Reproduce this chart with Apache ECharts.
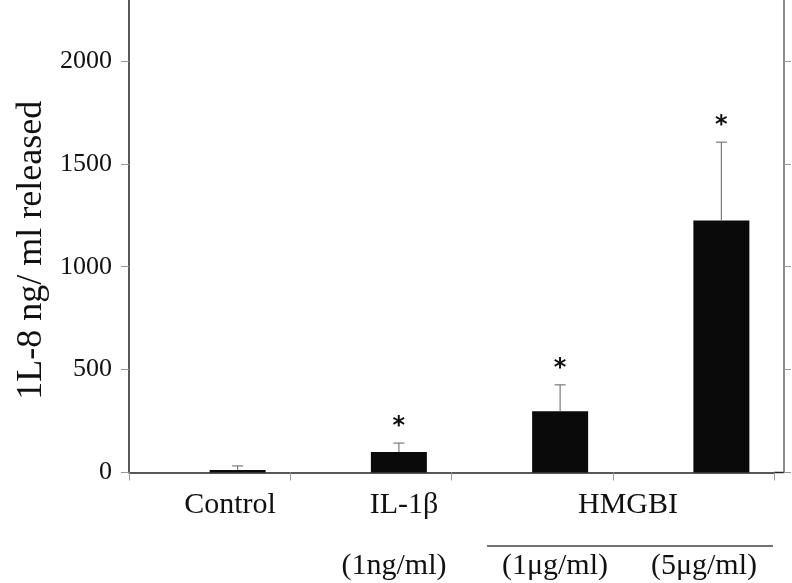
<!DOCTYPE html>
<html>
<head>
<meta charset="utf-8">
<script src="https://cdn.jsdelivr.net/npm/echarts@6/dist/echarts.min.js"></script>
<style>
html,body{margin:0;padding:0;background:#fff;}
#chart{width:792px;height:583px;}
</style>
</head>
<body>
<div id="chart"></div>
<script>
// data
const categories = ['Control', 'IL-1β', 'HMGBI 1μg/ml', 'HMGBI 5μg/ml']
const means = [12, 100, 298, 1225]
const errors = [20, 43, 128, 380]
const significant = [0, 1, 1, 1]
const yTicks = [0, 500, 1000, 1500, 2000]
const groupLabels = ['Control', 'IL-1β', 'HMGBI']
const doseLabels = ['(1ng/ml)', '(1μg/ml)', '(5μg/ml)']

const SERIF = "'Liberation Serif', 'Times New Roman', serif"
const BAR_W = 56

const chart = echarts.init(document.getElementById('chart'))

const errData = means.map((m, i) => [i, m, errors[i], significant[i]])

const option = {
    backgroundColor: '#fff',
    animation: false,
    grid: {left: 129, right: 18, top: 0, bottom: 110.5},
    xAxis: {
        type: 'category',
        data: categories,
        boundaryGap: true,
        axisLine: {lineStyle: {color: '#222', width: 1.5}},
        axisTick: {show: true, alignWithLabel: false, length: 8, lineStyle: {color: '#999'}},
        axisLabel: {show: false},
        splitLine: {show: false}
    },
    yAxis: [
        {
            type: 'value',
            min: 0,
            max: 2296,
            interval: 500,
            name: '1L-8 ng/ ml released',
            nameLocation: 'middle',
            nameRotate: 90,
            nameGap: 79,
            nameTextStyle: {fontFamily: SERIF, fontSize: 36, color: '#111', padding: [0, 28, 0, 0]},
            axisLine: {show: true, lineStyle: {color: '#222', width: 1.5}},
            axisTick: {show: true, length: 8, customValues: yTicks, lineStyle: {color: '#999'}},
            axisLabel: {
                customValues: yTicks,
                margin: 17,
                fontFamily: SERIF,
                fontSize: 26,
                color: '#111',
                formatter: function (v) { return String(v) }
            },
            splitLine: {show: false}
        },
        {
            type: 'value',
            position: 'right',
            offset: 10,
            min: 0,
            max: 2296,
            interval: 500,
            axisLine: {show: true, lineStyle: {color: '#666', width: 1.5}},
            axisTick: {show: true, length: 7, customValues: yTicks, lineStyle: {color: '#999'}},
            axisLabel: {show: false},
            splitLine: {show: false}
        }
    ],
    series: [
        {
            // empty spacer so the real bars sit right of the category centre
            name: 'spacer',
            type: 'bar',
            data: [],
            barWidth: BAR_W,
            barGap: '0%',
            silent: true
        },
        {
            name: 'IL-8',
            type: 'bar',
            data: means,
            barWidth: BAR_W,
            barGap: '0%',
            itemStyle: {color: '#0a0a0a'}
        },
        {
            name: 'SD',
            type: 'custom',
            data: errData,
            encode: {x: 0, y: 1},
            z: 10,
            renderItem: function (params, api) {
                const idx = api.value(0)
                const mean = api.value(1)
                const err = api.value(2)
                const base = api.coord([idx, mean])
                const top = api.coord([idx, mean + err])
                const x = base[0] + BAR_W / 2
                const lineStyle = {stroke: '#7a7a7a', lineWidth: 1.2}
                const children = [
                    {type: 'line', shape: {x1: x, y1: base[1], x2: x, y2: top[1]}, style: lineStyle},
                    {type: 'line', shape: {x1: x - 5.5, y1: top[1], x2: x + 5.5, y2: top[1]}, style: lineStyle}
                ]
                if (api.value(3)) {
                    children.push({
                        type: 'text',
                        x: x,
                        y: top[1] - 4,
                        style: {
                            text: '*',
                            fontFamily: 'DejaVu Sans',
                            fontSize: 24,
                            fontWeight: 'bold',
                            fill: '#111',
                            align: 'center',
                            verticalAlign: 'bottom'
                        }
                    })
                }
                return {type: 'group', children: children}
            }
        }
    ],
    graphic: [
        {type: 'text', x: 230, y: 505, style: {text: groupLabels[0], font: '30px ' + SERIF, fill: '#111', align: 'center', verticalAlign: 'middle'}},
        {type: 'text', x: 404, y: 505, style: {text: groupLabels[1], font: '30px ' + SERIF, fill: '#111', align: 'center', verticalAlign: 'middle'}},
        {type: 'text', x: 628, y: 505, style: {text: groupLabels[2], font: '30px ' + SERIF, fill: '#111', align: 'center', verticalAlign: 'middle'}},
        {type: 'line', shape: {x1: 487, y1: 546, x2: 773, y2: 546}, style: {stroke: '#444', lineWidth: 1.5}},
        {type: 'text', x: 394, y: 566, style: {text: doseLabels[0], font: '30px ' + SERIF, fill: '#111', align: 'center', verticalAlign: 'middle'}},
        {type: 'text', x: 555, y: 566, style: {text: doseLabels[1], font: '30px ' + SERIF, fill: '#111', align: 'center', verticalAlign: 'middle'}},
        {type: 'text', x: 704, y: 566, style: {text: doseLabels[2], font: '30px ' + SERIF, fill: '#111', align: 'center', verticalAlign: 'middle'}},
        {type: 'line', shape: {x1: 774, y1: 472.5, x2: 784, y2: 472.5}, style: {stroke: '#222', lineWidth: 1.5}}
    ]
}

chart.setOption(option)
</script>
</body>
</html>
